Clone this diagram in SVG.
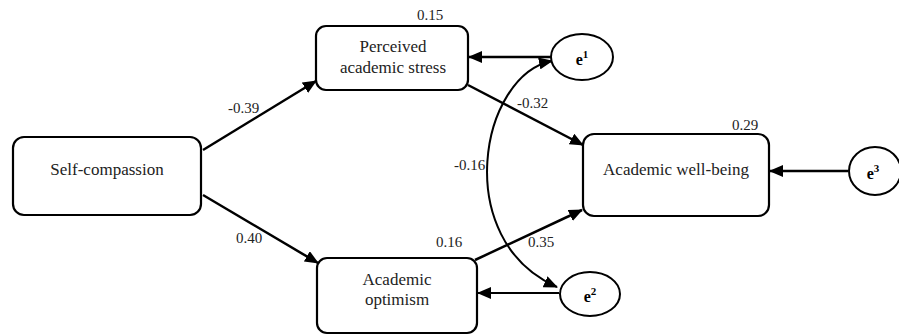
<svg xmlns="http://www.w3.org/2000/svg" width="899" height="336" viewBox="0 0 899 336">
<style>
.box{fill:#fff;stroke:#000;stroke-width:2.2}
.err{fill:#fff;stroke:#000;stroke-width:2}
.t{font-size:17px;fill:#222;text-anchor:middle}
.n{font-size:15px;fill:#222}
.e{font-size:16px;font-weight:bold;fill:#000;text-anchor:middle}
.c{fill:none;stroke:#000;stroke-width:2.5}
.c2{fill:none;stroke:#000;stroke-width:2}
</style>
<defs>
<marker id="ah" markerUnits="userSpaceOnUse" markerWidth="14" markerHeight="12" refX="13" refY="6" orient="auto-start-reverse" viewBox="0 0 14 12">
<path d="M0,0 L14,6 L0,12 Z" fill="#000"/>
</marker>
</defs>
<g id="connectors">
<line class="c" x1="203" y1="150" x2="316" y2="81" marker-end="url(#ah)"/>
<line class="c" x1="203" y1="195" x2="318" y2="263" marker-end="url(#ah)"/>
<line class="c" x1="468" y1="85" x2="583" y2="145" marker-end="url(#ah)"/>
<line class="c" x1="475" y1="260" x2="582" y2="210" marker-end="url(#ah)"/>
<line class="c" x1="551" y1="57" x2="469" y2="57" marker-end="url(#ah)"/>
<line class="c2" x1="559" y1="293" x2="478" y2="293" marker-end="url(#ah)"/>
<line class="c" x1="848" y1="171" x2="770" y2="171" marker-end="url(#ah)"/>
<path class="c2" d="M 552,61 C 480,75 450,240 557,287" marker-start="url(#ah)" marker-end="url(#ah)"/>
</g>
<g font-family="Liberation Serif, Times New Roman, serif">
<g id="self-compassion">
<rect class="box" x="13" y="137" width="188" height="78" rx="11"/>
<text class="t" x="107" y="175">Self-compassion</text>
</g>
<g id="perceived-stress">
<rect class="box" x="316" y="26" width="152" height="64" rx="10"/>
<text class="t" x="393" y="52">Perceived</text>
<text class="t" x="393" y="73">academic stress</text>
</g>
<g id="academic-optimism">
<rect class="box" x="317" y="258" width="160" height="75" rx="10"/>
<text class="t" x="397" y="285">Academic</text>
<text class="t" x="397" y="305">optimism</text>
</g>
<g id="academic-wellbeing">
<rect class="box" x="583" y="134" width="186" height="82" rx="11"/>
<text class="t" x="676" y="175">Academic well-being</text>
</g>
<g id="e1">
<ellipse class="err" cx="582" cy="57" rx="31" ry="23"/>
<text class="e" x="582" y="65">e<tspan font-size="11" dy="-7">1</tspan></text>
</g>
<g id="e2">
<ellipse class="err" cx="590" cy="294" rx="30" ry="22"/>
<text class="e" x="590" y="302">e<tspan font-size="11" dy="-7">2</tspan></text>
</g>
<g id="e3">
<ellipse class="err" cx="875" cy="171" rx="26" ry="24"/>
<text class="e" x="873" y="179">e<tspan font-size="11" dy="-7">3</tspan></text>
</g>
<g id="labels">
<text class="n" x="417" y="20">0.15</text>
<text class="n" x="228" y="113">-0.39</text>
<text class="n" x="236" y="243">0.40</text>
<text class="n" x="517" y="108">-0.32</text>
<text class="n" x="454" y="170">-0.16</text>
<text class="n" x="528" y="247">0.35</text>
<text class="n" x="732" y="130">0.29</text>
<text class="n" x="436" y="247">0.16</text>
</g>
</g>
</svg>
